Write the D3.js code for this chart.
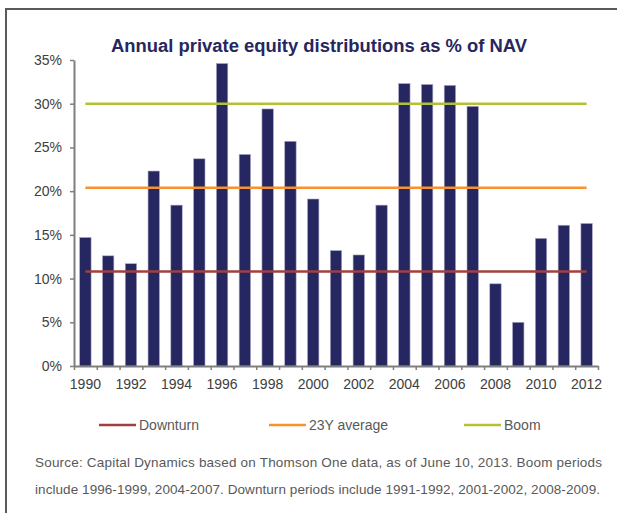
<!DOCTYPE html>
<html>
<head>
<meta charset="utf-8">
<script src="https://cdn.jsdelivr.net/npm/d3@7/dist/d3.min.js"></script>
<style>
  body { margin: 0; background: #fff; }
  svg { display: block; font-family: "Liberation Sans", Arial, sans-serif; }
</style>
</head>
<body>
<svg id="chart" width="617" height="513"></svg>
<script>
const years = d3.range(1990, 2013);
const distributions = [14.7, 12.6, 11.7, 22.3, 18.4, 23.7, 34.6, 24.2, 29.4, 25.7, 19.1, 13.2, 12.7,
  18.4, 32.3, 32.2, 32.1, 29.7, 9.4, 5.0, 14.6, 16.1, 16.3];
const yTicks = [0, 5, 10, 15, 20, 25, 30, 35];
const refNames = ["Downturn", "23Y average", "Boom"];
const refValues = [10.8, 20.4, 30.0];
const refColors = ["#a0403f", "#f7922c", "#b3c234"];
const sourceLines = [
  "Source: Capital Dynamics based on Thomson One data, as of June 10, 2013. Boom periods",
  "include 1996-1999, 2004-2007. Downturn periods include 1991-1992, 2001-2002, 2008-2009."
];

const svg = d3.select("#chart");

// frame
svg.append("path")
  .attr("d", "M6,513V9H617")
  .attr("fill", "none")
  .attr("stroke", "#5a5a5a")
  .attr("stroke-width", 2);

svg.append("text")
  .attr("x", 319)
  .attr("y", 52)
  .attr("text-anchor", "middle")
  .attr("font-size", 17.5)
  .attr("font-weight", "bold")
  .attr("fill", "#262660")
  .attr("textLength", 416)
  .attr("lengthAdjust", "spacingAndGlyphs")
  .text("Annual private equity distributions as % of NAV");

const x = d3.scaleBand()
  .domain(years)
  .range([74, 598])
  .paddingInner(0.5)
  .paddingOuter(0.25);

const xEdge = d3.scaleLinear().domain([0, years.length]).range([74, 598]);

const y = d3.scaleLinear().domain([0, 35]).range([366, 60]);

// bars
svg.append("g")
  .selectAll("rect")
  .data(years)
  .join("rect")
  .attr("x", d => x(d))
  .attr("width", x.bandwidth())
  .attr("y", (d, i) => y(distributions[i]))
  .attr("height", (d, i) => y(0) - y(distributions[i]))
  .attr("fill", "#262660")
  .attr("stroke", "#a9a9c8")
  .attr("stroke-width", 0.6);

// reference lines
const xFirst = x(years[0]) + x.bandwidth() / 2;
const xLast = x(years[years.length - 1]) + x.bandwidth() / 2;
svg.append("g")
  .selectAll("line")
  .data(refValues)
  .join("line")
  .attr("x1", xFirst)
  .attr("x2", xLast)
  .attr("y1", d => y(d))
  .attr("y2", d => y(d))
  .attr("stroke", (d, i) => refColors[i])
  .attr("stroke-width", 2.5);

// y axis
const yAxis = svg.append("g")
  .attr("transform", "translate(74,0)")
  .call(d3.axisLeft(y).tickValues(yTicks).tickFormat(d => d + "%").tickSize(4).tickSizeOuter(0).tickPadding(8));
yAxis.select(".domain").attr("stroke", "#7f7f7f").attr("stroke-width", 2);
yAxis.selectAll(".tick line").attr("stroke", "#7f7f7f").attr("stroke-width", 1.5);
yAxis.selectAll("text").attr("font-size", 14).attr("fill", "#404040").attr("font-family", null);

// x axis (ticks at category edges)
const xAxis = svg.append("g")
  .attr("transform", "translate(0,366)")
  .call(d3.axisBottom(xEdge).tickValues(d3.range(years.length + 1)).tickFormat("").tickSize(4).tickSizeOuter(0));
xAxis.select(".domain").attr("stroke", "#7f7f7f").attr("stroke-width", 2);
xAxis.selectAll(".tick line").attr("stroke", "#7f7f7f").attr("stroke-width", 1.5);

svg.append("g")
  .selectAll("text")
  .data(years.filter(d => d % 2 === 0))
  .join("text")
  .attr("x", d => x(d) + x.bandwidth() / 2)
  .attr("y", 389)
  .attr("text-anchor", "middle")
  .attr("font-size", 14)
  .attr("fill", "#404040")
  .text(d => d);

// legend
const legendX = [99, 269, 464];
const legend = svg.append("g")
  .selectAll("g")
  .data(refNames)
  .join("g")
  .attr("transform", (d, i) => `translate(${legendX[i]},425)`);
legend.append("line")
  .attr("x1", 0).attr("x2", 37)
  .attr("stroke", (d, i) => refColors[i])
  .attr("stroke-width", 2.5);
legend.append("text")
  .attr("x", 40)
  .attr("y", 5)
  .attr("font-size", 14)
  .attr("fill", "#595959")
  .text(d => d);

// source note
svg.append("g")
  .selectAll("text")
  .data(sourceLines)
  .join("text")
  .attr("x", 35)
  .attr("y", (d, i) => 467 + i * 27)
  .attr("font-size", 13.5)
  .attr("fill", "#595959")
  .attr("textLength", (d, i) => i === 0 ? 567 : 565)
  .attr("lengthAdjust", "spacing")
  .text(d => d);
</script>
</body>
</html>
